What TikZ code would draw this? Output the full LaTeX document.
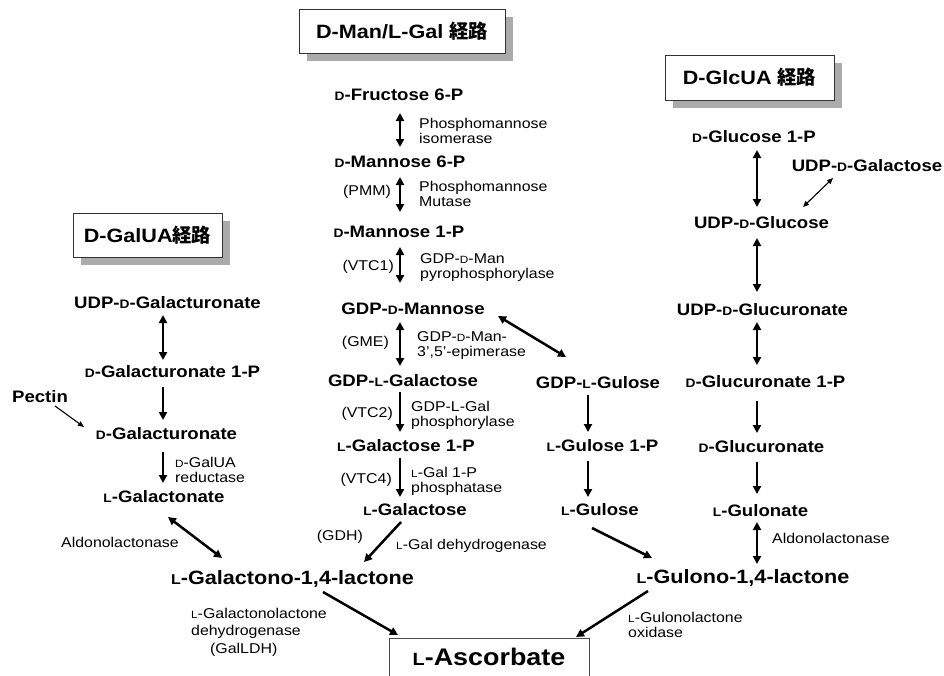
\documentclass[tikz,border=0pt]{standalone}
\usepackage{fontspec}
\usepackage{graphicx}
\setmainfont{Liberation Sans}[FakeStretch=1.12]
\newfontfamily\jpfont{Noto Sans CJK JP}
\usetikzlibrary{arrows.meta,calc,shadows}
\newcommand{\smcap}[1]{\scalebox{0.74}{#1}}
\tikzset{
  cmp/.style={font=\bfseries\fontsize{16.6}{19}\selectfont, inner sep=0pt, text height=11.9pt, text depth=0pt},
  big/.style={font=\bfseries\fontsize{19.3}{22}\selectfont, inner sep=0pt, text height=13.8pt, text depth=0pt},
  enz/.style={font=\fontsize{14.2}{15}\selectfont, inner sep=0pt, align=left, anchor=west},
  prn/.style={font=\fontsize{14.2}{15}\selectfont, inner sep=0pt, anchor=east},
  ttl/.style={draw=black!80, line width=1pt, fill=white, font=\bfseries\fontsize{19.3}{22}\selectfont,
    drop shadow={shadow xshift=8pt, shadow yshift=-8pt, fill=black!33, opacity=1}, inner sep=0pt},
  ln/.style={line width=2.5pt, -{Triangle[length=8pt,width=8pt]}},
  dbl/.style={line width=2.5pt, {Triangle[length=8pt,width=8pt]}-{Triangle[length=8pt,width=8pt]}},
  thn/.style={line width=1.1pt, -{Triangle[length=6pt,width=5pt]}},
  thndbl/.style={line width=1.1pt, {Triangle[length=6pt,width=5pt]}-{Triangle[length=6pt,width=5pt]}},
}
\begin{document}
\begin{tikzpicture}[x=1pt,y=-1pt]
\useasboundingbox (0,0) rectangle (944,675);
\clip (0,0) rectangle (944,675);
\fill[white] (0,0) rectangle (944,675);

% titles
\node[ttl, minimum width=206pt, minimum height=44pt] (t1) at (402,31) {D-Man/L-Gal {\jpfont 経路}};
\node[ttl, minimum width=169pt, minimum height=45pt] (t2) at (749.5,77.5) {D-GlcUA {\jpfont 経路}};
\node[ttl, minimum width=149pt, minimum height=44pt] (t3) at (147.5,235) {D-GalUA{\jpfont 経路}};

% left column
\node[cmp] (udpgala) at (167.5,303) {UDP-\smcap{D}-Galacturonate};
\node[cmp] (gala1p) at (172.5,372) {\smcap{D}-Galacturonate 1-P};
\node[cmp] (pectin) at (40,397) {Pectin};
\node[cmp] (gala) at (166.5,434) {\smcap{D}-Galacturonate};
\node[enz] (ered) at (175,469.5) {\smcap{D}-GalUA\\reductase};
\node[cmp] (galon) at (164,497) {\smcap{L}-Galactonate};
\node[enz, anchor=center] (aldo1) at (120,542) {Aldonolactonase};
\node[big] (galono) at (292.5,578) {\smcap{L}-Galactono-1,4-lactone};
\node[enz, font=\fontsize{14.2}{17.5}\selectfont] (egalldh) at (191,632) {\smcap{L}-Galactonolactone\\dehydrogenase\\\hspace*{19pt}(GalLDH)};

% central column
\node[cmp] (fru) at (399,95) {\smcap{D}-Fructose 6-P};
\node[enz] (epmi) at (419,130.5) {Phosphomannose\\isomerase};
\node[cmp] (man6) at (400,162) {\smcap{D}-Mannose 6-P};
\node[prn] (pmm) at (391,192) {(PMM)};
\node[enz] (epmm) at (419,193.5) {Phosphomannose\\Mutase};
\node[cmp] (man1) at (399,232) {\smcap{D}-Mannose 1-P};
\node[prn] (vtc1) at (394,267) {(VTC1)};
\node[enz] (evtc1) at (420,267.5) {GDP-\smcap{D}-Man\\pyrophosphorylase};
\node[cmp] (gdpman) at (413,309) {GDP-\smcap{D}-Mannose};
\node[prn] (gme) at (389,343) {(GME)};
\node[enz] (egme) at (417,345.5) {GDP-\smcap{D}-Man-\\3’,5’-epimerase};
\node[cmp] (gdpgal) at (403,381) {GDP-\smcap{L}-Galactose};
\node[prn] (vtc2) at (393,414) {(VTC2)};
\node[enz] (evtc2) at (411,415.5) {GDP-L-Gal\\phosphorylase};
\node[cmp] (gal1p) at (406,446) {\smcap{L}-Galactose 1-P};
\node[prn] (vtc4) at (392,480) {(VTC4)};
\node[enz] (evtc4) at (411,481) {\smcap{L}-Gal 1-P\\phosphatase};
\node[cmp] (gal) at (415,510) {\smcap{L}-Galactose};
\node[prn] (gdh) at (363,537) {(GDH)};
\node[enz] (egdh) at (396,546) {\smcap{L}-Gal dehydrogenase};

% gulose column
\node[cmp] (gdpgul) at (598,383) {GDP-\smcap{L}-Gulose};
\node[cmp] (gul1p) at (602.5,446) {\smcap{L}-Gulose 1-P};
\node[cmp] (gul) at (600,510) {\smcap{L}-Gulose};
\node[big] (gulono) at (743,577) {\smcap{L}-Gulono-1,4-lactone};
\node[enz] (egulo) at (628,624.5) {\smcap{L}-Gulonolactone\\oxidase};

% right column
\node[cmp] (glc1p) at (754,137) {\smcap{D}-Glucose 1-P};
\node[cmp] (udpgal) at (867,166) {UDP-\smcap{D}-Galactose};
\node[cmp] (udpglc) at (761.5,223) {UDP-\smcap{D}-Glucose};
\node[cmp] (udpglcua) at (762.5,310) {UDP-\smcap{D}-Glucuronate};
\node[cmp] (glcua1p) at (765.5,382) {\smcap{D}-Glucuronate 1-P};
\node[cmp] (glcua) at (761.5,447) {\smcap{D}-Glucuronate};
\node[cmp] (gulonate) at (760.5,511) {\smcap{L}-Gulonate};
\node[enz] (aldo2) at (772,538) {Aldonolactonase};

% ascorbate
\node[draw=black!70, line width=1pt, fill=white, anchor=base, inner sep=0pt, minimum width=200pt,
  text height=27pt, text depth=22pt, font=\bfseries\fontsize{24}{27}\selectfont] (asc) at (489,665) {\smcap{L}-Ascorbate};

% central arrows
\draw[dbl] ($(fru)+(1,18)$) -- ($(man6)+(0,-15)$);
\draw[dbl] ($(man6)+(0,15)$) -- ($(man1)+(1,-20)$);
\draw[dbl] ($(man1)+(1,15)$) -- ($(gdpman)+(-13,-26)$);
\draw[dbl] ($(gdpman)+(-13,13)$) -- ($(gdpgal)+(-3,-15)$);
\draw[ln] ($(gdpgal)+(-3,11)$) -- ($(gal1p)+(-6,-14)$);
\draw[ln] ($(gal1p)+(-6,12)$) -- ($(gal)+(-15,-13)$);
\draw[ln] ($(gal)+(-14,12)$) -- ($(galono)+(71.5,-16)$);
\draw[dbl] ($(gdpman)+(85,7)$) -- ($(gdpgul)+(-32,-26)$);

% left arrows
\draw[dbl] ($(udpgala)+(-4.5,12)$) -- ($(gala1p)+(-9.5,-12)$);
\draw[ln] ($(gala1p)+(-9.5,15)$) -- ($(gala)+(-3.5,-14)$);
\draw[thn] ($(pectin)+(15,9)$) -- ($(gala)+(-82.5,-7)$);
\draw[ln] ($(gala)+(-3.5,18)$) -- ($(galon)+(-1,-14)$);
\draw[dbl] ($(galon)+(4,20)$) -- ($(galono)+(-70.5,-20)$);
\draw[ln] ($(galono)+(30.5,14)$) -- ($(asc.base)+(-91,-30)$);

% gulose arrows
\draw[ln] ($(gdpgul)+(-10,12)$) -- ($(gul1p)+(-14.5,-14)$);
\draw[ln] ($(gul1p)+(-14.5,15)$) -- ($(gul)+(-12,-13)$);
\draw[ln] ($(gul)+(-8,18)$) -- ($(gulono)+(-91,-19)$);
\draw[ln] ($(gulono)+(-95,14)$) -- ($(asc.base)+(87,-28)$);

% right arrows
\draw[dbl] ($(glc1p)+(3,13)$) -- ($(udpglc)+(-4.5,-16)$);
\draw[thndbl] ($(udpgal)+(-34,12)$) -- ($(udpglc)+(41.5,-16)$);
\draw[dbl] ($(udpglc)+(-4.5,15)$) -- ($(udpglcua)+(-5.5,-18)$);
\draw[dbl] ($(udpglcua)+(-5.5,12)$) -- ($(glcua1p)+(-8.5,-17)$);
\draw[ln] ($(glcua1p)+(-8.5,19)$) -- ($(glcua)+(-4.5,-14)$);
\draw[ln] ($(glcua)+(-4.5,15)$) -- ($(gulonate)+(-3.5,-17)$);
\draw[dbl] ($(gulonate)+(-3.5,11)$) -- ($(gulono)+(14,-13)$);
\end{tikzpicture}
\end{document}
